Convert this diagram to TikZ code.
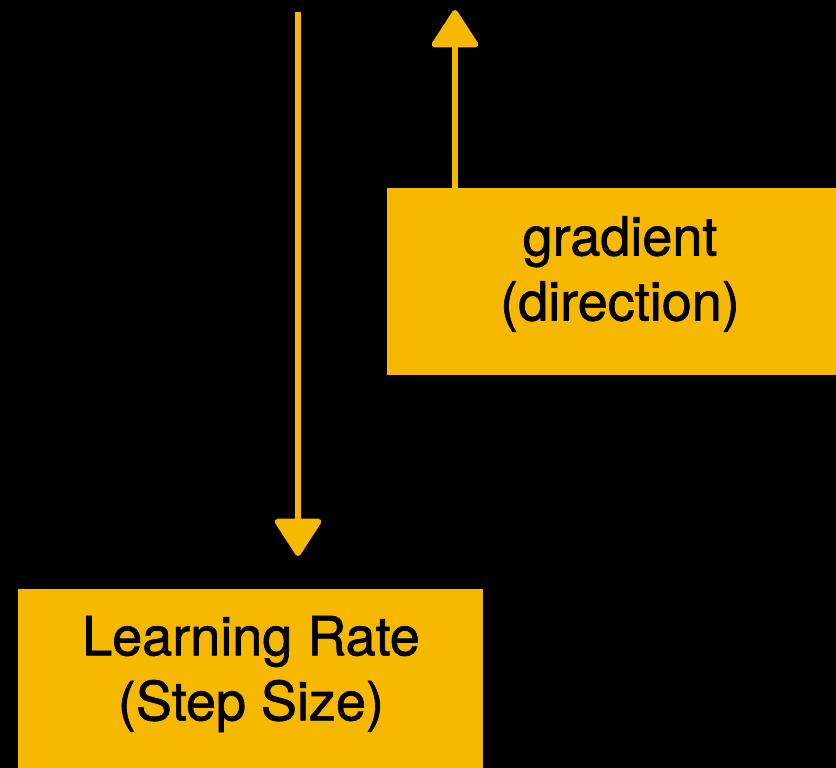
\documentclass[tikz,border=0pt]{standalone}
\usepackage{fontspec}
\setmainfont{TeX Gyre Heros}[FakeBold=1.2]
\usetikzlibrary{arrows.meta}
\definecolor{boxorange}{HTML}{F6B900}
\tikzset{
  x=1pt, y=-1pt,
  orangebox/.style={fill=boxorange, draw=none, inner sep=0pt},
  boxtext/.style={align=center, inner sep=0pt,
    font=\fontsize{54}{65}\selectfont, text=black},
  sketcharrow/.style={draw=boxorange, line width=6pt, line join=round,
    -{Triangle[length=40pt, width=50pt, round]}}
}
\begin{document}
\begin{tikzpicture}
\fill[black] (0,0) rectangle (836,768);
\useasboundingbox (0,0) rectangle (836,768);
\node[orangebox, minimum width=449pt, minimum height=187pt] (grad) at (611.5,281.5) {};
\node[boxtext] (gradtext) at (620,274) {gradient\\(direction)};
\node[orangebox, minimum width=465pt, minimum height=179pt] (lr) at (250.5,678.5) {};
\node[boxtext] (lrtext) at (251,674) {Learning Rate\\(Step Size)};
\coordinate (topA) at (298,12);
\coordinate (endA) at (298,556);
\coordinate (startB) at (455,188);
\draw[sketcharrow] (topA) -- (endA);
\draw[sketcharrow] (startB) -- (455,10);
\end{tikzpicture}
\end{document}
